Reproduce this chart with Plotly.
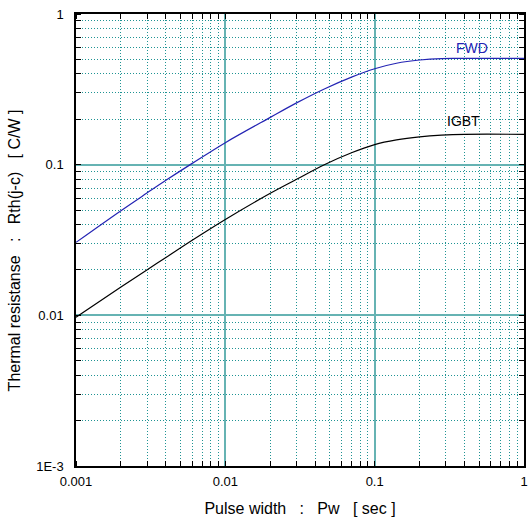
import plotly.graph_objects as go

pulse_width = [0.001, 0.002, 0.003, 0.004, 0.006, 0.01, 0.02, 0.03, 0.046, 0.07, 0.1, 0.14, 0.2, 0.28, 0.4, 1.0]
fwd = [0.0305, 0.0495, 0.065, 0.0787, 0.102, 0.140, 0.206, 0.257, 0.318, 0.381, 0.433, 0.471, 0.495, 0.506, 0.507, 0.507]
igbt = [0.0097, 0.0154, 0.0201, 0.0242, 0.0315, 0.0433, 0.0646, 0.080, 0.100, 0.120, 0.136, 0.146, 0.153, 0.157, 0.159, 0.159]

x_tickvals = [0.001, 0.01, 0.1, 1]
x_ticktext = ["0.001", "0.01", "0.1", "1"]
y_tickvals = [0.001, 0.01, 0.1, 1]
y_ticktext = ["1E-3", "0.01", "0.1", "1"]

labels = ["FWD", "IGBT"]

FONT = "Liberation Sans, Arial, sans-serif"
MAJOR = "#66b3b3"
MINOR = "#1f9494"
NB = "\u00a0"

fig = go.Figure()
fig.add_trace(go.Scatter(x=pulse_width, y=fwd, mode="lines", name=labels[0],
                         line=dict(color="#2424b4", width=1.2, shape="spline", smoothing=1.0)))
fig.add_trace(go.Scatter(x=pulse_width, y=igbt, mode="lines", name=labels[1],
                         line=dict(color="#000000", width=1.2, shape="spline", smoothing=1.0)))

# annotation coordinates on log axes are given in log10 units
fig.add_annotation(x=-0.35, y=-0.226, xref="x", yref="y", text=labels[0], showarrow=False,
                   xanchor="center", yanchor="middle",
                   font=dict(family=FONT, size=14, color="#2424b4"))
fig.add_annotation(x=-0.405, y=-0.710, xref="x", yref="y", text=labels[1], showarrow=False,
                   xanchor="center", yanchor="middle",
                   font=dict(family=FONT, size=14, color="#000000"))

axis_common = dict(
    type="log",
    showline=True, linecolor="black", linewidth=1.5, mirror="allticks",
    showgrid=True, gridcolor=MAJOR, gridwidth=1.5,
    ticks="", ticklen=0,
    zeroline=False,
    tickfont=dict(family=FONT, size=13, color="black"),
    ticklabeloverflow="allow",
    minor=dict(showgrid=True, gridcolor=MINOR, griddash="1px,2px", gridwidth=1,
               ticks="inside", ticklen=5, tickcolor="black", tickwidth=1,
               dtick="D1"),
)

x_title = "Pulse width" + NB * 3 + ":" + NB * 3 + "Pw" + NB * 3 + "[ sec ]"
y_title = "Thermal resistanse" + NB * 3 + ":" + NB * 3 + "Rth(j-c)" + NB * 3 + "[ C/W ]"

fig.update_xaxes(**axis_common, range=[-3, 0], tickvals=x_tickvals, ticktext=x_ticktext,
                 ticklabelstandoff=3,
                 title=dict(text=x_title, font=dict(family=FONT, size=16, color="black"), standoff=14))
fig.update_yaxes(**axis_common, range=[-3, 0], tickvals=y_tickvals, ticktext=y_ticktext,
                 ticklabelstandoff=8)

fig.add_annotation(x=-0.1372, y=0.476, xref="paper", yref="paper", text=y_title,
                   showarrow=False, textangle=-90, xanchor="center", yanchor="middle",
                   font=dict(family=FONT, size=16, color="black"))

fig.update_layout(
    width=529, height=522,
    margin=dict(l=76, r=1, t=14, b=56),
    paper_bgcolor="white", plot_bgcolor="white",
    showlegend=False,
)

fig.write_html("out.html", config={"displayModeBar": False},
               post_script="document.body.style.margin='0';document.body.style.overflow='hidden';")
